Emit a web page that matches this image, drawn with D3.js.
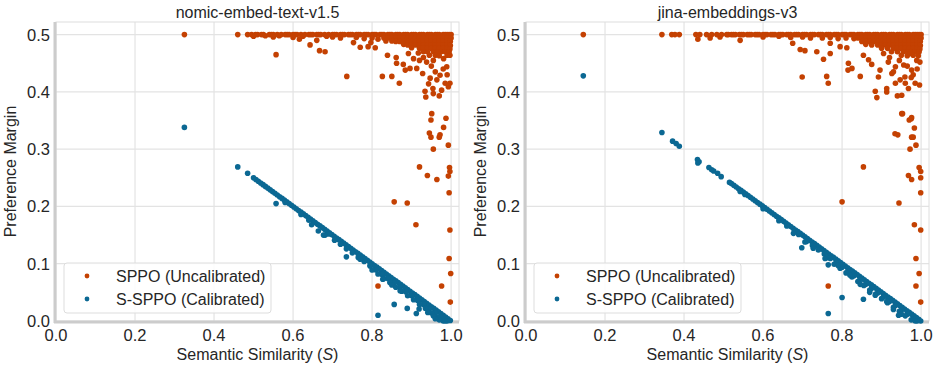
<!DOCTYPE html>
<html>
<head>
<meta charset="utf-8">
<script src="https://cdn.jsdelivr.net/npm/d3@7"></script>
<style>
  body { margin: 0; background: #fff; }
  svg { display: block; font-family: "Liberation Sans", Arial, sans-serif; }
</style>
</head>
<body>
<svg id="chart" width="933" height="366"></svg>
<script>
// [semantic similarity, preference margin] pairs

const panelTitles = ['nomic-embed-text-v1.5', 'jina-embeddings-v3'];
const seriesNames = ['SPPO (Uncalibrated)', 'S-SPPO (Calibrated)'];
const xTicks = [0, 0.2, 0.4, 0.6, 0.8, 1.0];
const yTicks = [0, 0.1, 0.2, 0.3, 0.4, 0.5];

const nomicSppo = [
  [0.325,0.5],[0.46,0.5],[0.485,0.5],[0.495,0.5],[0.5,0.497],[0.505,0.5],[0.51,0.5],[0.52,0.5],[0.525,0.5],[0.53,0.498],
  [0.54,0.5],[0.545,0.5],[0.55,0.5],[0.56,0.5],[0.565,0.498],[0.57,0.5],[0.58,0.5],[0.585,0.5],[0.59,0.5],[0.6,0.5],
  [0.605,0.5],[0.61,0.5],[0.62,0.5],[0.625,0.497],[0.63,0.5],[0.64,0.5],[0.645,0.5],[0.65,0.5],[0.66,0.5],[0.665,0.5],
  [0.67,0.5],[0.68,0.5],[0.685,0.497],[0.69,0.5],[0.7,0.5],[0.705,0.5],[0.71,0.5],[0.72,0.5],[0.725,0.5],[0.73,0.5],
  [0.74,0.5],[0.745,0.5],[0.75,0.5],[0.76,0.5],[0.765,0.5],[0.77,0.5],[0.78,0.5],[0.785,0.5],[0.79,0.5],[0.8,0.5],
  [0.805,0.5],[0.81,0.5],[0.82,0.5],[0.825,0.5],[0.83,0.5],[0.84,0.5],[0.845,0.5],[0.85,0.5],[0.86,0.5],[0.865,0.5],
  [0.87,0.5],[0.88,0.5],[0.885,0.5],[0.89,0.5],[0.9,0.5],[0.905,0.5],[0.91,0.5],[0.92,0.5],[0.925,0.5],[0.93,0.5],
  [0.94,0.5],[0.945,0.5],[0.95,0.5],[0.96,0.5],[0.965,0.5],[0.97,0.5],[0.98,0.5],[0.985,0.5],[0.99,0.5],[0.995,0.5],[1.0,0.5],
  [0.55,0.496],[0.6,0.495],[0.7,0.496],[0.72,0.494],[0.76,0.495],[0.78,0.493],[0.8,0.494],[0.815,0.492],[0.83,0.494],[0.835,0.489],
  [0.84,0.494],[0.85,0.494],[0.86,0.494],[0.87,0.494],[0.88,0.494],[0.89,0.494],[0.9,0.494],[0.91,0.494],[0.92,0.494],[0.93,0.494],
  [0.94,0.494],[0.95,0.494],[0.96,0.494],[0.97,0.494],[0.98,0.494],[0.99,0.494],[1.0,0.494],
  [0.85,0.489],[0.86,0.488],[0.87,0.488],[0.88,0.488],[0.89,0.488],[0.9,0.488],[0.91,0.488],[0.92,0.488],[0.93,0.488],[0.94,0.488],
  [0.95,0.488],[0.96,0.488],[0.97,0.488],[0.98,0.488],[0.99,0.488],[0.998,0.488],
  [0.88,0.483],[0.89,0.482],[0.9,0.482],[0.91,0.482],[0.92,0.482],[0.93,0.482],[0.94,0.482],[0.95,0.482],[0.96,0.482],[0.97,0.482],
  [0.98,0.482],[0.99,0.482],[0.998,0.481],
  [0.9,0.477],[0.92,0.476],[0.93,0.476],[0.94,0.476],[0.95,0.476],[0.96,0.476],[0.97,0.476],[0.98,0.476],[0.99,0.476],[0.997,0.475],
  [0.93,0.47],[0.94,0.47],[0.955,0.47],[0.965,0.47],[0.975,0.47],[0.985,0.47],[0.995,0.47],
  [0.945,0.464],[0.96,0.464],[0.97,0.463],[0.99,0.464],
  [0.557,0.465],[0.616,0.492],[0.643,0.482],[0.66,0.49],[0.667,0.472],[0.681,0.47],[0.736,0.427],[0.753,0.486],[0.77,0.478],[0.79,0.479],
  [0.797,0.486],[0.808,0.477],[0.826,0.427],[0.839,0.464],[0.85,0.427],[0.861,0.46],[0.862,0.45],[0.869,0.415],[0.879,0.448],[0.884,0.438],
  [0.892,0.467],[0.896,0.441],[0.905,0.458],[0.913,0.441],[0.917,0.468],[0.928,0.432],[0.934,0.401],[0.936,0.391],[0.938,0.452],[0.943,0.414],
  [0.947,0.424],[0.954,0.406],[0.955,0.397],[0.964,0.421],[0.972,0.429],[0.976,0.403],[0.981,0.458],[0.985,0.415],[0.989,0.444],[0.993,0.409],
  [0.997,0.464],[0.997,0.415],[0.95,0.445],[0.96,0.435],[0.92,0.455],[0.97,0.393],[0.98,0.44],[0.99,0.43],[0.93,0.46],[0.955,0.455],
  [0.951,0.362],[0.949,0.351],[0.987,0.354],[0.981,0.338],[0.945,0.328],[0.949,0.321],[0.972,0.325],[0.97,0.321],[0.993,0.307],[0.955,0.3],
  [0.92,0.269],[0.94,0.254],[0.964,0.247],[0.996,0.268],[0.997,0.261],[0.993,0.253],[0.995,0.224],[0.856,0.208],[0.889,0.206],
  [0.911,0.168],[0.997,0.159],[0.995,0.109],[0.999,0.083],[0.976,0.061],[0.815,0.061],[0.998,0.033]
];

const nomicSsppo = [
  [0.325,0.338],[0.46,0.269],[0.485,0.258],
  [0.5,0.25],[0.506,0.247],[0.512,0.244],[0.518,0.241],[0.524,0.238],[0.53,0.235],[0.536,0.232],[0.542,0.229],[0.548,0.226],[0.554,0.223],
  [0.56,0.22],[0.566,0.217],[0.572,0.214],[0.578,0.211],[0.584,0.208],[0.59,0.205],[0.596,0.202],[0.602,0.199],[0.608,0.196],[0.614,0.193],
  [0.62,0.19],[0.626,0.187],[0.632,0.184],[0.638,0.181],[0.644,0.178],[0.65,0.175],[0.656,0.172],[0.662,0.169],[0.668,0.166],[0.674,0.163],
  [0.68,0.16],[0.686,0.157],[0.692,0.154],[0.698,0.151],[0.704,0.148],[0.71,0.145],[0.716,0.142],[0.722,0.139],[0.728,0.136],[0.734,0.133],
  [0.74,0.13],[0.746,0.127],[0.752,0.124],[0.758,0.121],[0.764,0.118],[0.77,0.115],[0.776,0.112],[0.782,0.109],[0.788,0.106],[0.794,0.103],
  [0.8,0.1],[0.806,0.097],[0.812,0.094],[0.818,0.091],[0.824,0.088],[0.83,0.085],[0.836,0.082],[0.842,0.079],[0.848,0.076],[0.854,0.073],
  [0.86,0.07],[0.866,0.067],[0.872,0.064],[0.878,0.061],[0.884,0.058],[0.89,0.055],[0.896,0.052],[0.902,0.049],[0.908,0.046],[0.914,0.043],
  [0.92,0.04],[0.926,0.037],[0.932,0.034],[0.938,0.031],[0.944,0.028],[0.95,0.025],[0.956,0.022],[0.962,0.019],[0.968,0.016],[0.974,0.013],
  [0.98,0.01],[0.986,0.007],[0.992,0.004],[0.998,0.001],
  [0.58,0.207],[0.62,0.186],[0.64,0.176],[0.69,0.152],[0.705,0.141],[0.72,0.134],[0.735,0.126],[0.75,0.119],[0.765,0.111],[0.78,0.104],
  [0.795,0.096],[0.81,0.089],[0.825,0.081],[0.84,0.074],[0.855,0.066],[0.87,0.059],[0.885,0.051],[0.9,0.044],[0.915,0.036],[0.93,0.029],
  [0.945,0.021],[0.96,0.014],[0.975,0.006],[0.99,0.0],
  [0.8,0.089],[0.815,0.082],[0.83,0.074],[0.845,0.067],[0.86,0.059],[0.875,0.052],[0.89,0.044],[0.905,0.037],[0.92,0.029],[0.935,0.022],
  [0.95,0.014],[0.965,0.007],[0.98,0.0],[0.97,0.002],[0.96,0.004],[0.955,0.009],[0.985,0.0],
  [0.557,0.205],[0.647,0.168],[0.664,0.157],[0.681,0.15],[0.677,0.15],[0.735,0.112],[0.77,0.108],[0.795,0.097],[0.827,0.073],[0.85,0.063],
  [0.871,0.053],[0.815,0.01],[0.856,0.029],[0.889,0.022],[0.912,0.013],[0.919,0.021],[0.941,0.015]
];

const jinaSppo = [
  [0.145,0.5],[0.344,0.5],[0.369,0.5],[0.377,0.5],[0.388,0.5],[0.43,0.5],[0.435,0.492],[0.44,0.5],[0.457,0.5],[0.466,0.494],
  [0.47,0.5],[0.483,0.5],[0.491,0.496],[0.495,0.5],[0.508,0.5],[0.512,0.5],[0.52,0.5],[0.525,0.5],[0.53,0.5],[0.54,0.5],
  [0.542,0.49],[0.545,0.5],[0.55,0.5],[0.56,0.5],[0.565,0.5],[0.57,0.5],[0.58,0.5],[0.585,0.5],[0.59,0.5],[0.6,0.5],
  [0.605,0.5],[0.61,0.5],[0.62,0.5],[0.625,0.5],[0.63,0.5],[0.64,0.5],[0.645,0.5],[0.65,0.5],[0.66,0.5],[0.665,0.5],
  [0.67,0.5],[0.68,0.5],[0.685,0.5],[0.69,0.5],[0.7,0.5],[0.705,0.5],[0.71,0.5],[0.72,0.5],[0.725,0.5],[0.73,0.5],
  [0.74,0.5],[0.745,0.5],[0.75,0.5],[0.76,0.5],[0.765,0.5],[0.77,0.5],[0.78,0.5],[0.785,0.5],[0.79,0.5],[0.8,0.5],
  [0.805,0.5],[0.81,0.5],[0.82,0.5],[0.825,0.5],[0.83,0.5],[0.84,0.5],[0.845,0.5],[0.85,0.5],[0.86,0.5],[0.865,0.5],
  [0.87,0.5],[0.88,0.5],[0.885,0.5],[0.89,0.5],[0.9,0.5],[0.905,0.5],[0.91,0.5],[0.92,0.5],[0.925,0.5],[0.93,0.5],
  [0.94,0.5],[0.945,0.5],[0.95,0.5],[0.96,0.5],[0.965,0.5],[0.97,0.5],[0.98,0.5],[0.985,0.5],[0.99,0.5],[0.995,0.5],[1.0,0.5],
  [0.6,0.496],[0.64,0.497],[0.67,0.495],[0.7,0.496],[0.72,0.494],[0.75,0.494],[0.77,0.495],[0.79,0.493],[0.81,0.494],[0.83,0.493],
  [0.84,0.494],[0.85,0.494],[0.86,0.494],[0.87,0.494],[0.88,0.494],[0.89,0.494],[0.9,0.494],[0.91,0.494],[0.92,0.494],[0.93,0.494],
  [0.94,0.494],[0.95,0.494],[0.96,0.494],[0.97,0.494],[0.98,0.494],[0.99,0.494],[1.0,0.494],
  [0.85,0.488],[0.86,0.488],[0.87,0.488],[0.88,0.488],[0.89,0.488],[0.9,0.488],[0.91,0.488],[0.92,0.488],[0.93,0.488],[0.94,0.488],
  [0.95,0.488],[0.96,0.488],[0.97,0.488],[0.98,0.488],[0.99,0.488],[0.998,0.488],
  [0.86,0.483],[0.875,0.482],[0.89,0.482],[0.9,0.482],[0.91,0.482],[0.92,0.482],[0.93,0.482],[0.94,0.482],[0.95,0.482],[0.96,0.482],
  [0.97,0.482],[0.98,0.482],[0.99,0.482],[0.998,0.481],
  [0.9,0.476],[0.915,0.476],[0.93,0.476],[0.94,0.476],[0.95,0.476],[0.96,0.476],[0.97,0.476],[0.98,0.476],[0.99,0.476],[0.997,0.475],
  [0.925,0.47],[0.94,0.47],[0.955,0.47],[0.965,0.47],[0.975,0.47],[0.985,0.47],[0.995,0.47],
  [0.95,0.464],[0.965,0.463],[0.98,0.464],[0.993,0.463],
  [0.675,0.485],[0.694,0.474],[0.706,0.472],[0.736,0.47],[0.699,0.426],[0.761,0.427],[0.765,0.415],[0.753,0.457],[0.77,0.467],[0.77,0.485],
  [0.795,0.479],[0.812,0.477],[0.816,0.45],[0.815,0.438],[0.825,0.441],[0.846,0.427],[0.854,0.464],[0.867,0.456],[0.875,0.448],[0.884,0.401],
  [0.888,0.39],[0.892,0.426],[0.896,0.438],[0.905,0.467],[0.913,0.406],[0.917,0.452],[0.926,0.432],[0.935,0.444],[0.94,0.393],[0.947,0.421],
  [0.951,0.394],[0.956,0.447],[0.959,0.426],[0.968,0.406],[0.972,0.467],[0.976,0.438],[0.985,0.415],[0.989,0.455],[0.996,0.412],[0.997,0.452],
  [0.913,0.4],[0.93,0.435],[0.945,0.455],[0.965,0.445],[0.98,0.43],[0.99,0.44],[0.92,0.46],[0.96,0.415],[0.975,0.425],[0.935,0.415],
  [0.951,0.362],[0.976,0.355],[0.953,0.362],[0.97,0.351],[0.975,0.353],[0.983,0.337],[0.934,0.327],[0.941,0.325],[0.976,0.321],[0.98,0.321],
  [0.987,0.307],[0.972,0.3],[0.854,0.269],[0.968,0.254],[0.976,0.247],[0.995,0.268],[0.999,0.261],[0.999,0.25],[0.999,0.224],[0.8,0.208],
  [0.944,0.206],[0.983,0.168],[0.999,0.159],[0.987,0.109],[0.995,0.083],[0.987,0.061],[0.765,0.061],[0.999,0.033]
];

const jinaSsppo = [
  [0.145,0.428],[0.344,0.329],[0.371,0.314],[0.38,0.31],[0.388,0.305],[0.434,0.282],[0.438,0.278],[0.435,0.276],[0.463,0.268],[0.47,0.264],
  [0.475,0.262],[0.485,0.258],[0.494,0.252],
  [0.515,0.242],[0.52,0.24],[0.526,0.237],[0.532,0.234],[0.538,0.231],[0.544,0.228],[0.55,0.225],[0.556,0.222],[0.562,0.219],[0.568,0.216],
  [0.574,0.213],[0.58,0.21],[0.586,0.207],[0.592,0.204],[0.598,0.201],[0.604,0.198],[0.61,0.195],[0.616,0.192],[0.622,0.189],[0.628,0.186],
  [0.634,0.183],[0.64,0.18],[0.646,0.177],[0.652,0.174],[0.658,0.171],[0.664,0.168],[0.67,0.165],[0.676,0.162],[0.682,0.159],[0.688,0.156],
  [0.694,0.153],[0.7,0.15],[0.706,0.147],[0.712,0.144],[0.718,0.141],[0.724,0.138],[0.73,0.135],[0.736,0.132],[0.742,0.129],[0.748,0.126],
  [0.754,0.123],[0.76,0.12],[0.766,0.117],[0.772,0.114],[0.778,0.111],[0.784,0.108],[0.79,0.105],[0.796,0.102],[0.802,0.099],[0.808,0.096],
  [0.814,0.093],[0.82,0.09],[0.826,0.087],[0.832,0.084],[0.838,0.081],[0.844,0.078],[0.85,0.075],[0.856,0.072],[0.862,0.069],[0.868,0.066],
  [0.874,0.063],[0.88,0.06],[0.886,0.057],[0.892,0.054],[0.898,0.051],[0.904,0.048],[0.91,0.045],[0.916,0.042],[0.922,0.039],[0.928,0.036],
  [0.934,0.033],[0.94,0.03],[0.946,0.027],[0.952,0.024],[0.958,0.021],[0.964,0.018],[0.97,0.015],[0.976,0.012],[0.982,0.009],[0.988,0.006],
  [0.994,0.003],[0.999,0.0],
  [0.542,0.226],[0.554,0.221],[0.6,0.196],[0.64,0.175],[0.66,0.166],[0.69,0.151],[0.71,0.139],[0.725,0.132],[0.74,0.124],[0.755,0.117],
  [0.77,0.109],[0.785,0.102],[0.8,0.094],[0.815,0.087],[0.83,0.079],[0.845,0.072],[0.86,0.064],[0.875,0.057],[0.89,0.049],[0.905,0.042],
  [0.92,0.034],[0.935,0.027],[0.95,0.019],[0.965,0.012],[0.98,0.004],[0.99,0.0],
  [0.76,0.11],[0.78,0.099],[0.795,0.092],[0.81,0.084],[0.825,0.077],[0.84,0.069],[0.855,0.062],[0.87,0.054],[0.885,0.047],[0.9,0.039],
  [0.915,0.032],[0.93,0.024],[0.945,0.017],[0.96,0.009],[0.975,0.002],[0.985,0.0],[0.95,0.012],
  [0.698,0.128],[0.727,0.127],[0.757,0.109],[0.765,0.098],[0.82,0.08],[0.846,0.064],[0.884,0.045],[0.913,0.034],[0.943,0.01],[0.765,0.013],
  [0.8,0.041],[0.854,0.038],[0.677,0.153],[0.706,0.138],[0.79,0.097],[0.87,0.05],[0.93,0.02]
];

const orange = '#c44102';
const blue = '#0b6893';

const svg = d3.select('#chart');
const plotTop = 22, plotBottom = 321;
const fs = 16;

const panels = [
  { title: panelTitles[0], sppo: nomicSppo, ssppo: nomicSsppo, left: 56, right: 459 },
  { title: panelTitles[1], sppo: jinaSppo, ssppo: jinaSsppo, left: 526, right: 929 }
];

panels.forEach(p => {
  const x = d3.scaleLinear().domain([0, 1.02]).range([p.left, p.right]);
  const y = d3.scaleLinear().domain([0, 0.522]).range([plotBottom, plotTop]);
  const g = svg.append('g');

  // grid
  g.selectAll('.gx').data(xTicks.slice(1)).enter().append('line')
    .attr('x1', d => x(d)).attr('x2', d => x(d)).attr('y1', plotTop).attr('y2', plotBottom)
    .attr('stroke', '#e3e3e3').attr('stroke-width', 1.2);
  g.selectAll('.gy').data(yTicks.slice(1)).enter().append('line')
    .attr('x1', p.left).attr('x2', p.right).attr('y1', d => y(d)).attr('y2', d => y(d))
    .attr('stroke', '#e3e3e3').attr('stroke-width', 1.2);

  // frame
  g.append('rect').attr('x', p.left).attr('y', plotTop)
    .attr('width', p.right - p.left).attr('height', plotBottom - plotTop)
    .attr('fill', 'none').attr('stroke', '#dedede').attr('stroke-width', 1);
  g.append('line').attr('x1', p.left - 1).attr('x2', p.left - 1).attr('y1', plotTop).attr('y2', plotBottom + 2)
    .attr('stroke', '#cccccc').attr('stroke-width', 3);
  g.append('line').attr('x1', p.left - 2).attr('x2', p.right).attr('y1', plotBottom + 1).attr('y2', plotBottom + 1)
    .attr('stroke', '#cccccc').attr('stroke-width', 3);

  // tick labels
  g.selectAll('.tx').data(xTicks).enter().append('text')
    .attr('x', d => x(d)).attr('y', 341).attr('text-anchor', 'middle')
    .attr('font-size', 16.5).attr('fill', '#262626').text(d => d.toFixed(1));
  g.selectAll('.ty').data(yTicks).enter().append('text')
    .attr('x', p.left - 6).attr('y', d => y(d) + 6).attr('text-anchor', 'end')
    .attr('font-size', 16.5).attr('fill', '#262626').text(d => d.toFixed(1));

  // titles
  const mid = (p.left + p.right) / 2;
  g.append('text').attr('x', mid).attr('y', 18).attr('text-anchor', 'middle')
    .attr('font-size', fs).attr('fill', '#262626').text(p.title);
  const xl = g.append('text').attr('x', mid).attr('y', 360).attr('text-anchor', 'middle')
    .attr('font-size', fs).attr('fill', '#262626');
  xl.append('tspan').text('Semantic Similarity (');
  xl.append('tspan').attr('font-style', 'italic').text('S');
  xl.append('tspan').text(')');
  g.append('text').attr('transform', `translate(${p.left - 40},${(plotTop + plotBottom) / 2}) rotate(-90)`)
    .attr('text-anchor', 'middle').attr('font-size', fs).attr('fill', '#262626')
    .text('Preference Margin');

  // points
  g.selectAll('.sppo').data(p.sppo).enter().append('circle')
    .attr('cx', d => x(d[0])).attr('cy', d => y(d[1])).attr('r', 2.8).attr('fill', orange);
  g.selectAll('.ssppo').data(p.ssppo).enter().append('circle')
    .attr('cx', d => x(d[0])).attr('cy', d => y(d[1])).attr('r', 2.8).attr('fill', blue);

  // legend
  const lg = g.append('g').attr('transform', `translate(${p.left + 8},263)`);
  lg.append('rect').attr('width', 207).attr('height', 50).attr('rx', 3)
    .attr('fill', '#fff').attr('fill-opacity', 0.85).attr('stroke', '#dddddd');
  [orange, blue].forEach((c, i) => {
    lg.append('circle').attr('cx', 23).attr('cy', 13 + i * 23).attr('r', 2.4).attr('fill', c);
    lg.append('text').attr('x', 52).attr('y', 13 + i * 23 + 6)
      .attr('font-size', fs).attr('fill', '#262626').text(seriesNames[i]);
  });
});
</script>
</body>
</html>
